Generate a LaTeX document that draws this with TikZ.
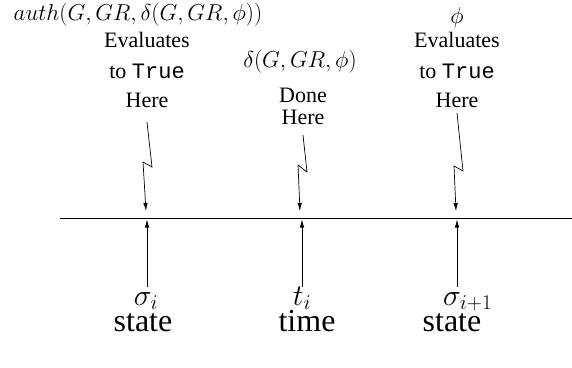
\documentclass[tikz,border=0pt]{standalone}
\usepackage{fix-cm}
\usepackage[no-math]{fontspec}
\setmainfont{Liberation Serif}
\setmonofont{Liberation Mono}
\usetikzlibrary{arrows.meta}

\begin{document}
\begin{tikzpicture}[x=1pt,y=-1pt,
		txt/.style={anchor=base,inner sep=0pt,font=\fontsize{22}{26}\selectfont},
		topmath/.style={anchor=base,inner sep=0pt,font=\fontsize{23}{27}\selectfont},
		bigtxt/.style={anchor=base,inner sep=0pt,font=\fontsize{32}{37}\selectfont},
		bigmath/.style={anchor=base,inner sep=0pt,font=\fontsize{30}{34}\selectfont},
		bolt/.style={line width=0.7pt,-{Latex[length=8pt,width=4.5pt]}}]
		\useasboundingbox (0,0) rectangle (572,367);
		\node[topmath] (auth) at (138,20) {$auth(G,GR,\delta(G,GR,\phi))$};
		\node[txt] (evalA) at (147,47) {Evaluates};
		\node[txt] (trueA) at (147,78) {to \texttt{True}};
		\node[txt] (hereA) at (147,107) {Here};
		\node[topmath] (delta) at (300,67) {$\delta(G,GR,\phi)$};
		\node[txt] (done) at (303,102) {Done};
		\node[txt] (hereB) at (303,124) {Here};
		\node[topmath] (phi) at (457,23) {$\phi$};
		\node[txt] (evalC) at (457,47) {Evaluates};
		\node[txt] (trueC) at (457,78) {to \texttt{True}};
		\node[txt] (hereC) at (457,107) {Here};
		\coordinate (left) at (60,218);
		\coordinate (right) at (572,218);
		\coordinate (si) at (147,218);
		\coordinate (ti) at (302,218);
		\coordinate (sj) at (457,218);
		\coordinate (footA) at (147,287);
		\coordinate (footB) at (302,287);
		\coordinate (footC) at (457,287);
		\draw[line width=1pt] (left) -- (right);
		\draw[bolt] ([yshift=-15pt]hereA.base) -- ++(5,45) -- ++(-9,-5) -- ([xshift=-1pt,yshift=7pt]si);
		\draw[bolt] ([yshift=-11pt]hereB.base) -- ++(4,37) -- ++(-9,-7) -- ([xshift=-2pt,yshift=7pt]ti);
		\draw[bolt] ([yshift=-6pt]hereC.base) -- ++(6,58) -- ++(-9,-5) -- ([xshift=-1pt,yshift=7pt]sj);
		\draw[bolt] (footA) -- ([yshift=-1.5pt]si);
		\draw[bolt] (footB) -- ([yshift=-1.5pt]ti);
		\draw[bolt] (footC) -- ([yshift=-1.5pt]sj);
		\node[bigmath] (sigA) at (146,305) {$\sigma_i$};
		\node[bigtxt] (stateA) at (143,331) {state};
		\node[bigmath] (tee) at (302,305) {$t_i$};
		\node[bigtxt] (time) at (307,331) {time};
		\node[bigmath,anchor=base west] (sigB) at (443,305) {$\sigma_{i+1}$};
		\node[bigtxt] (stateB) at (452,331) {state};
	\end{tikzpicture}
\end{document}
